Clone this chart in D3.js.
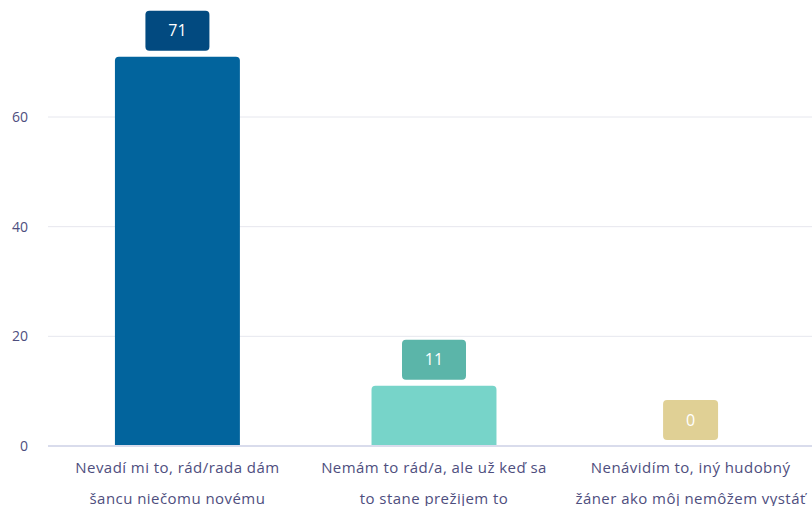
<!DOCTYPE html>
<html><head><meta charset="utf-8">
<script src="https://cdn.jsdelivr.net/npm/d3@7"></script>
<style>body{margin:0;background:#fff}svg{display:block}</style>
</head><body><svg id="c" width="812" height="506"></svg>
<script>
const categories = [
  ["Nevadí mi to, rád/rada dám", "šancu niečomu novému"],
  ["Nemám to rád/a, ale už keď sa", "to stane prežijem to"],
  ["Nenávidím to, iný hudobný", "žáner ako môj nemôžem vystáť"]
];
const values = [71, 11, 0];
const barColors = ["#02649d", "#77d4c9", "#e3d497"];
const labelColors = ["#024a80", "#5bb5a9", "#e0d095"];
const yTicks = [0, 20, 40, 60];

const svg = d3.select("#c");
const W = 812, H = 506;
const x = d3.scaleBand().domain(d3.range(categories.length)).range([49, 819]).paddingInner(0.513).paddingOuter(0.257);
const y = d3.scaleLinear().domain([0, 60]).range([446, 117]);

// grid
svg.append("g").selectAll("line").data(yTicks.filter(d => d > 0)).join("line")
  .attr("x1", 48).attr("x2", W).attr("y1", d => y(d)).attr("y2", d => y(d))
  .attr("stroke", "#e6e7ee").attr("stroke-width", 1);

// y labels
svg.append("g").selectAll("text").data(yTicks).join("text")
  .attr("x", 28).attr("y", d => y(d)).attr("dy", "0.35em").attr("text-anchor", "end")
  .attr("font-family", "'Open Sans', sans-serif").attr("font-size", 14).attr("fill", "#4e4e7e")
  .text(d => d);

// bars with rounded top
const r = 4;
function barPath(x0, w, yTop, yBot) {
  if (yBot - yTop < 0.5) return "";
  return `M${x0},${yBot}V${yTop + r}Q${x0},${yTop} ${x0 + r},${yTop}H${x0 + w - r}Q${x0 + w},${yTop} ${x0 + w},${yTop + r}V${yBot}Z`;
}
svg.append("g").selectAll("path").data(values).join("path")
  .attr("d", (d, i) => barPath(x(i), x.bandwidth(), y(d), y(0)))
  .attr("fill", (d, i) => barColors[i]);

// baseline
svg.append("line").attr("x1", 48).attr("x2", W).attr("y1", y(0)).attr("y2", y(0))
  .attr("stroke", "#d9dcec").attr("stroke-width", 2);

// value labels
const lg = svg.append("g").selectAll("g").data(values).join("g");
lg.each(function(d, i) {
  const g = d3.select(this);
  const cx = x(i) + x.bandwidth() / 2;
  const bw = String(d).length > 1 ? 64 : 55;
  const bh = 40;
  const yb = y(d) - 6;
  g.append("rect").attr("x", cx - bw / 2).attr("y", yb - bh).attr("width", bw).attr("height", bh)
    .attr("rx", 4).attr("fill", labelColors[i]);
  g.append("text").attr("x", cx).attr("y", yb - bh / 2).attr("dy", "0.36em").attr("text-anchor", "middle")
    .attr("font-family", "'Open Sans', sans-serif").attr("font-size", 16).attr("font-weight", 500)
    .attr("fill", "#fff").text(d);
});

// x labels
const xl = svg.append("g").selectAll("text").data(categories).join("text")
  .attr("x", (d, i) => x(i) + x.bandwidth() / 2).attr("y", 472.5).attr("text-anchor", "middle")
  .attr("font-family", "'Open Sans', sans-serif").attr("font-size", 15).attr("letter-spacing", 0.45)
  .attr("fill", "#4e4e7e");
xl.each(function(d) {
  const t = d3.select(this);
  d.forEach((line, k) => t.append("tspan").attr("x", t.attr("x")).attr("dy", k === 0 ? 0 : 31).text(line));
});
</script></body></html>
